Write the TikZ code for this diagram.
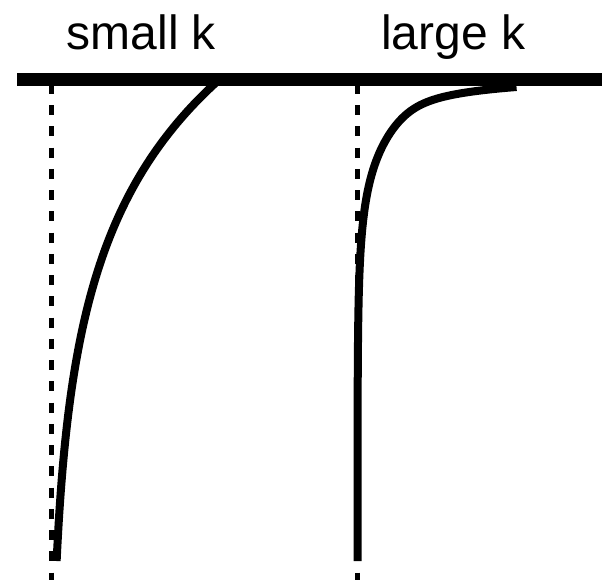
\documentclass[tikz,border=0pt]{standalone}
\usepackage{fontspec}
\setmainfont{Liberation Sans}
\begin{document}
\begin{tikzpicture}[x=1pt,y=-1pt,
  surface/.style={line width=13pt},
  guide/.style={line width=5pt, dash pattern=on 10pt off 11.25pt},
  profile/.style={line width=8pt, line cap=butt, line join=round},
  lbl/.style={anchor=base west, inner sep=0pt, font=\fontsize{48}{58}\selectfont}]
\useasboundingbox (0,0) rectangle (602,579);
\node[lbl] (small) at (66.5,49.5) {small k};
\node[lbl] (large) at (381,49.5) {large k};
\coordinate (g1top) at (51,83.75);
\coordinate (g1bot) at (51,600);
\coordinate (g2top) at (357.5,83.75);
\coordinate (g2bot) at (357.5,600);
\draw[guide] (g1top) -- (g1bot);
\draw[guide] (g2top) -- (g2bot);
\draw[profile] plot[domain=80:561, samples=160, variable=\t] ({49.5+162*exp(-(\t-86.7)/152)}, \t);
\draw[profile] plot[domain=87:150, samples=200, variable=\t] ({357.5+77.3*exp(-(\t-87)/7)+81.7*exp(-(\t-87)/50)}, \t)
  -- plot[domain=150:561, samples=160, variable=\t] ({357.5+81.7*exp(-(\t-87)/50)}, \t);
\coordinate (sl) at (17,79.5);
\coordinate (sr) at (602,79.5);
\draw[surface] (sl) -- (sr);
\end{tikzpicture}
\end{document}
